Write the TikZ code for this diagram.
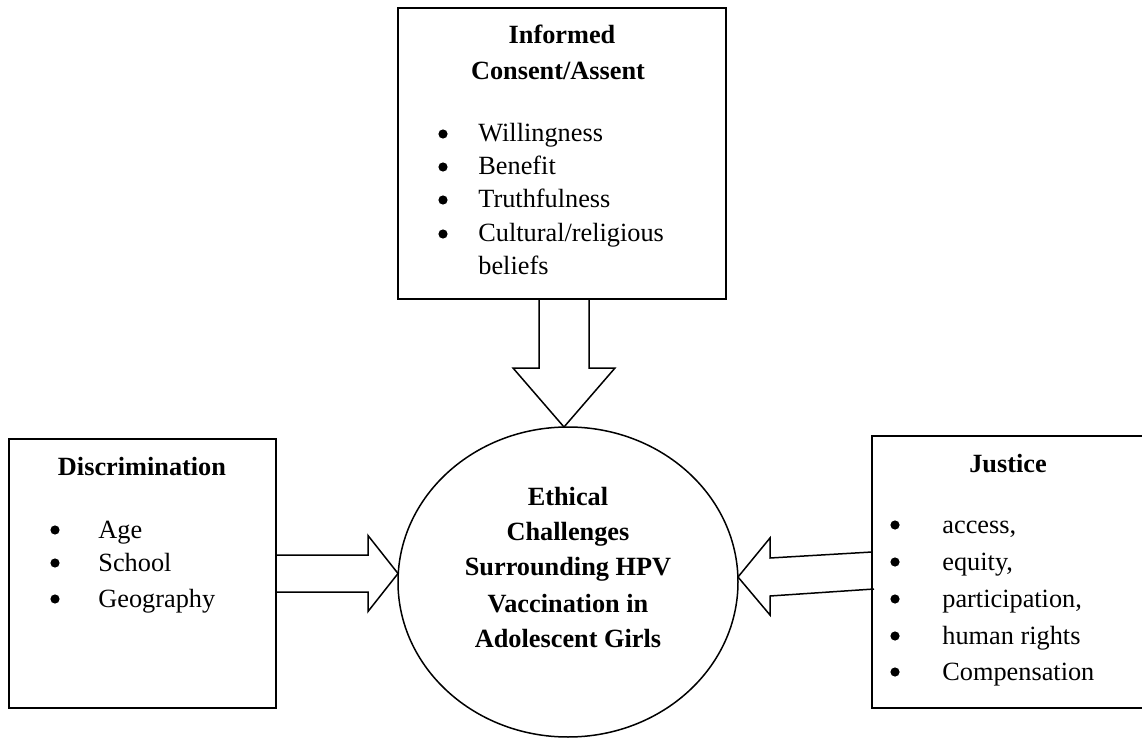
\documentclass[tikz,border=0pt]{standalone}
\usepackage{fontspec}
\setmainfont{Liberation Serif}
\usetikzlibrary{calc,shapes.geometric}
\begin{document}
\begin{tikzpicture}[x=0.5pt,y=-0.5pt,
  box/.style={draw, line width=1pt, inner sep=0pt, outer sep=0pt},
  blk/.style={draw, line width=0.75pt, line join=miter},
  hdr/.style={inner sep=0pt, anchor=base, font=\bfseries\fontsize{13.15}{16}\selectfont},
  itm/.style={inner sep=0pt, anchor=base west, font=\fontsize{13.15}{16}\selectfont},
  bul/.style={circle, fill=black, inner sep=0pt, minimum size=4.6pt}]
\useasboundingbox (0,0) rectangle (1142,738);

% boxes
\node[box, minimum width=164pt, minimum height=145.5pt] (top) at (562,153.5) {};
\node[box, minimum width=133.5pt, minimum height=134.5pt] (left) at (142.5,573.5) {};
\node[box, minimum width=137pt, minimum height=136pt] (right) at (1009,572) {};
\node[ellipse, draw, line width=0.75pt, inner sep=0pt, outer sep=0pt,
      minimum width=170pt, minimum height=155pt] (circ) at (568,582) {};

% top box text
\node[hdr] (ic1) at (562,44) {Informed};
\node[hdr] (ic2) at (558,80) {Consent/Assent};
\node[bul] (tb1) at (443,134) {};
\node[bul] (tb2) at (443,167) {};
\node[bul] (tb3) at (443,200) {};
\node[bul] (tb4) at (443,234) {};
\node[itm] (ti1) at (478,142) {Willingness};
\node[itm] (ti2) at (478,175) {Benefit};
\node[itm] (ti3) at (478,208) {Truthfulness};
\node[itm] (ti4) at (478,242) {Cultural/religious};
\node[itm] (ti5) at (478,275) {beliefs};

% left box text
\node[hdr] (dh) at (142,475) {Discrimination};
\node[bul] (lb1) at (55,530) {};
\node[bul] (lb2) at (55,563) {};
\node[bul] (lb3) at (55,599) {};
\node[itm] (li1) at (98,538) {Age};
\node[itm] (li2) at (98,571) {School};
\node[itm] (li3) at (98,607) {Geography};

% right box text
\node[hdr] (jh) at (1008,472) {Justice};
\node[bul] (rb1) at (895,525) {};
\node[bul] (rb2) at (895,562) {};
\node[bul] (rb3) at (895,599) {};
\node[bul] (rb4) at (895,636) {};
\node[bul] (rb5) at (895,672) {};
\node[itm] (ri1) at (942,533) {access,};
\node[itm] (ri2) at (942,570) {equity,};
\node[itm] (ri3) at (942,607) {participation,};
\node[itm] (ri4) at (942,644) {human rights};
\node[itm] (ri5) at (942,680) {Compensation};

% circle text
\node[hdr] (c1) at (568,505) {Ethical};
\node[hdr] (c2) at (568,540) {Challenges};
\node[hdr] (c3) at (568,575) {Surrounding HPV};
\node[hdr] (c4) at (568,612) {Vaccination in};
\node[hdr] (c5) at (568,647) {Adolescent Girls};

% block arrows
\coordinate (TT) at ($(circ.north)+(-4,0)$);
\coordinate (TB) at (top.south -| TT);
\draw[blk] ($(TB)+(-25,0)$) -- ($(TT)+(-25,-59)$) -- ($(TT)+(-51,-59)$) -- (TT)
  -- ($(TT)+(51,-59)$) -- ($(TT)+(25,-59)$) -- ($(TB)+(25,0)$);

\coordinate (TL) at (left.east -| circ.west);
\draw[blk] ($(left.east)+(0,-18.5)$) -- ($(TL)+(-30,-18.5)$) -- ($(TL)+(-30,-38)$) -- (TL)
  -- ($(TL)+(-30,38)$) -- ($(TL)+(-30,18.5)$) -- ($(left.east)+(0,18.5)$);

\coordinate (RT) at ($(circ.east)+(0,-5)$);
\draw[blk] ($(right.west)+(0,-20)$) -- ($(RT)+(32,-19)$) -- ($(RT)+(32,-39)$) -- (RT)
  -- ($(RT)+(32,38)$) -- ($(RT)+(32,19)$) -- ($(right.west)+(2,17)$);
\end{tikzpicture}
\end{document}
